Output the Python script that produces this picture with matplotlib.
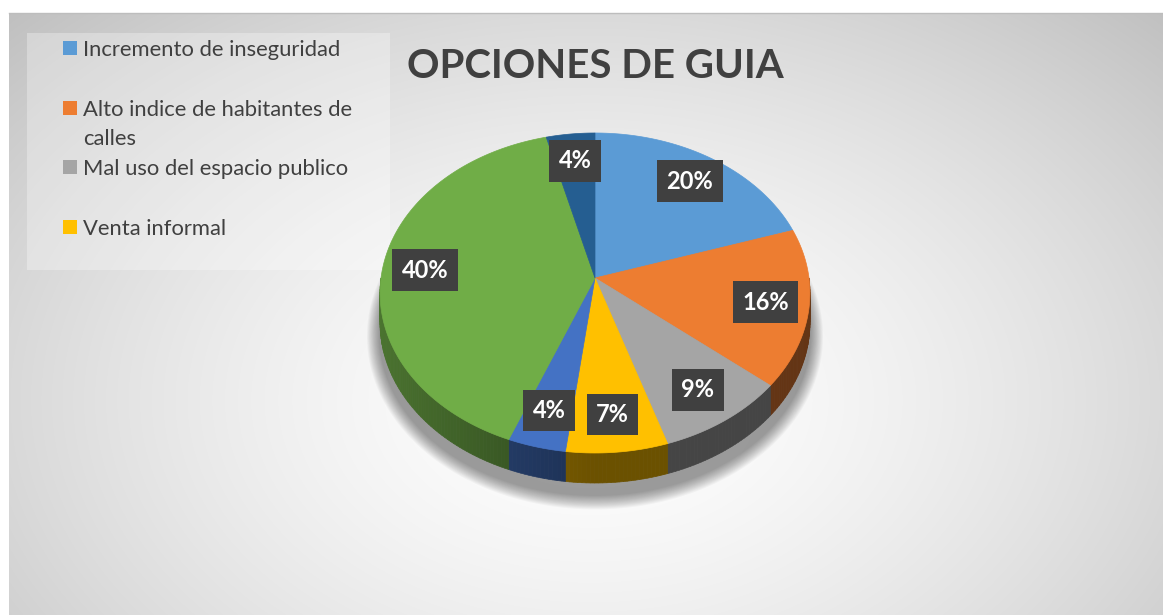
import numpy as np
import matplotlib
matplotlib.use('Agg')
import matplotlib.pyplot as plt
from matplotlib.patches import Polygon, Rectangle
from matplotlib.colors import to_rgb

# datos del grafico
values = [20, 16, 9, 7, 4, 40, 4]
colors = ['#5B9BD5', '#ED7D31', '#A5A5A5', '#FFC000', '#4472C4', '#70AD47', '#255E91']
legend_labels = ['Incremento de inseguridad',
                 'Alto indice de habitantes de\ncalles',
                 'Mal uso del espacio publico',
                 'Venta informal']
title = 'OPCIONES DE GUIA'

W, H = 1163, 615
fig = plt.figure(figsize=(W / 100, H / 100), dpi=100, facecolor='white')
ax = fig.add_axes([0, 0, 1, 1])
ax.set_xlim(0, W)
ax.set_ylim(H, 0)
ax.axis('off')

# fondo con degradado radial
x0, x1, y0, y1 = 9, W, 13, H
xx, yy = np.meshgrid(np.arange(x0, x1), np.arange(y0, y1))
t = np.sqrt(((xx - 590) / 620.0) ** 2 + ((yy - 400) / 420.0) ** 2)
g = np.clip(255 - 42 * t ** 1.5, 0, 255) / 255.0
ax.imshow(np.dstack([g, g, g]), extent=(x0, x1, y1, y0), interpolation='bilinear', zorder=0)
ax.plot([x0, x1], [y0, y0], color='#bdbdbd', lw=1, zorder=1)

# proyeccion del pastel en perspectiva
CX, CY, A, B, P, DEPTH = 595, 278, 214, 158.6, 0.0937, 30


def proj(theta, r=1.0):
    th = np.radians(theta)
    u = r * np.sin(th)
    v = -r * np.cos(th)
    s = 1.0 / (1 - P * v)
    return CX + A * u * s, CY + B * v * s


# sombra
ring = np.array([proj(a) for a in np.linspace(0, 360, 200)])
for k in range(14, 0, -1):
    sx = CX + (ring[:, 0] - CX) * (1 + k / 230.0)
    sy = CY + 12 + DEPTH + (ring[:, 1] - CY) * (1 + k / 170.0)
    ax.add_patch(Polygon(np.column_stack([sx, sy]), closed=True, fc='black', ec='none',
                         alpha=0.03, zorder=2))

bounds = np.concatenate([[0], np.cumsum(values)]) / sum(values) * 360

# paredes laterales
for i, c in enumerate(colors):
    lo, hi = max(bounds[i], 90), min(bounds[i + 1], 270)
    if lo >= hi:
        continue
    ths = np.linspace(lo, hi, max(int(hi - lo), 2) + 1)
    base = np.array(to_rgb(c))
    for a, b in zip(ths[:-1], ths[1:]):
        xa, ya = proj(a)
        xb, yb = proj(b)
        u = np.sin(np.radians((a + b) / 2))
        f = 0.42 + 0.25 * max(0.0, -u)
        ax.add_patch(Polygon([(xa, ya), (xb, yb), (xb, yb + DEPTH), (xa, ya + DEPTH)],
                             closed=True, fc=base * f, ec=base * f, lw=0.5, zorder=3))

# caras superiores
for i, c in enumerate(colors):
    ths = np.linspace(bounds[i], bounds[i + 1], max(int(bounds[i + 1] - bounds[i]), 2) + 1)
    pts = [(CX, CY)] + [proj(a) for a in ths]
    ax.add_patch(Polygon(pts, closed=True, fc=c, ec=c, lw=0.5, zorder=4))

# etiquetas de datos
for i, v in enumerate(values):
    mid = (bounds[i] + bounds[i + 1]) / 2
    lx, ly = proj(mid, 0.8)
    ax.text(lx, ly, f'{v}%', ha='center', va='center', color='white', fontsize=17,
            fontweight='bold', family=['Lato', 'DejaVu Sans'], zorder=6,
            bbox=dict(boxstyle='square,pad=0.4', fc='#404040', ec='none'))

# leyenda (recortada como en el original)
ax.add_patch(Rectangle((27, 33), 363, 237, fc='white', ec='none', alpha=0.3, zorder=1))
leg_y = [48, 108, 167, 227]
for lab, c, y in zip(legend_labels, colors, leg_y):
    ax.add_patch(Rectangle((63, y - 7), 14, 14, fc=c, ec='none', zorder=5))
    for j, line in enumerate(lab.split('\n')):
        ax.text(83, y + 29 * j, line, ha='left', va='center_baseline', color='#404040',
                fontsize=15.8, family=['Lato', 'DejaVu Sans'], zorder=5)

ax.text(595, 66, title, ha='center', va='center', color='#404040', fontsize=29,
        fontweight='bold', family=['Lato', 'DejaVu Sans'], zorder=5)

fig.savefig('out.png', dpi=100, facecolor='white')
